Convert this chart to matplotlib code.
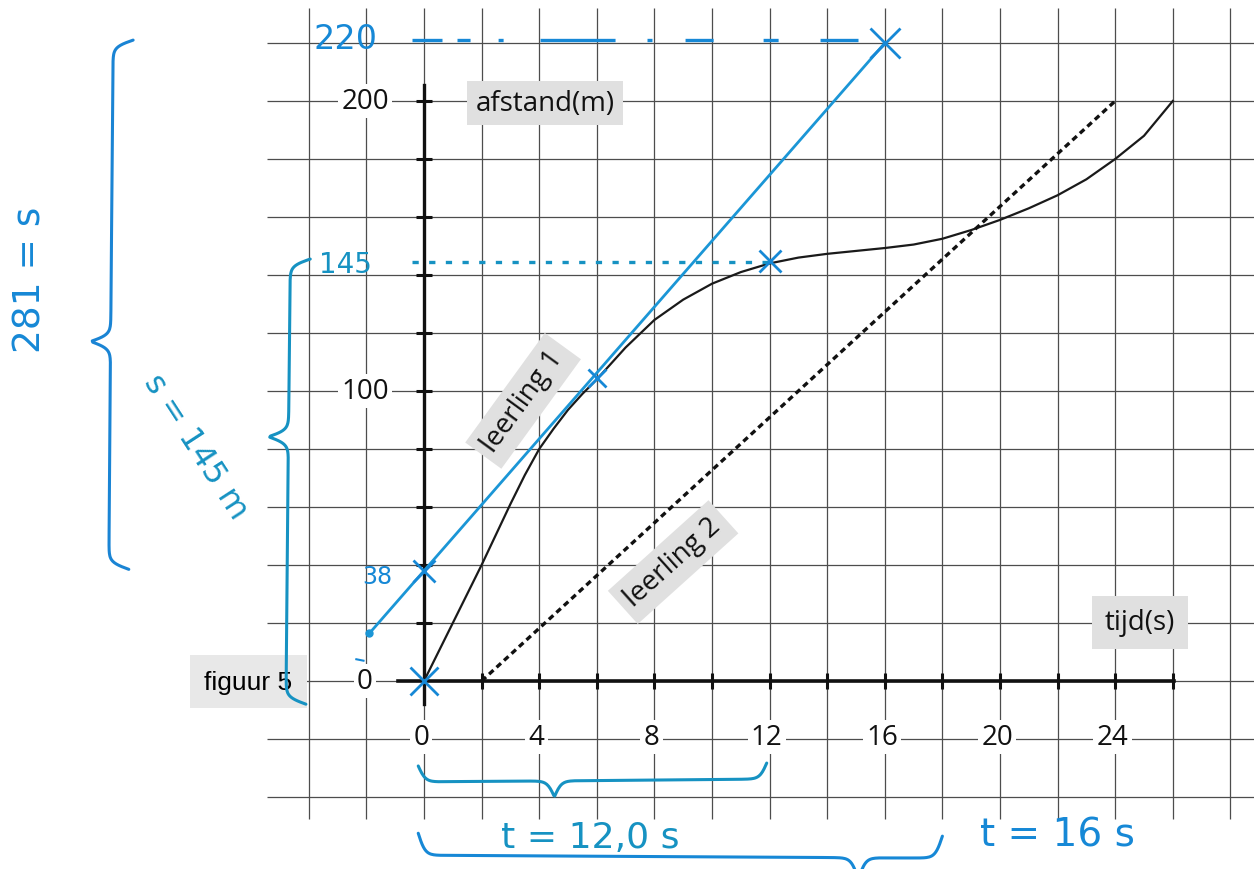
import numpy as np
import matplotlib
matplotlib.use("Agg")
import matplotlib.pyplot as plt

plt.rcParams['lines.scale_dashes'] = False

# leerling 1 (solid curve)
l1_t = [0, 1, 2, 3, 3.5, 4, 4.5, 5, 5.5, 6, 7, 8, 9, 10, 11, 12, 13, 14, 15, 16,
        17, 18, 19, 20, 21, 22, 23, 24, 25, 26]
l1_d = [0, 20, 40, 61, 71, 80, 87, 93.5, 99, 104, 115, 124.5, 131.5, 137, 141, 144,
        146, 147.3, 148.3, 149.3, 150.5, 152.5, 155.5, 159, 163, 167.5, 173, 180, 188, 200]

# leerling 2 (dashed straight line)
l2_t = [2, 24]
l2_d = [0, 200]

# blue tangent line drawn by hand
tan_t = [-1.9, 16]
tan_d = [16.4, 220]

# blue crosses
mark_t = [0, 0, 6, 12, 16]
mark_d = [0, 38, 104.5, 145, 220]
mark_sz = [20, 16, 13, 16, 22]

# helper lines at 220 and 145
help_220 = 221
help_145 = 144.5

xtick_vals = [0, 4, 8, 12, 16, 20, 24]
ytick_vals = [0, 100, 200]

# pixel scale of the sheet
PX_T = 28.8   # px per second
PX_D = 2.9    # px per metre

BLUE = '#1b96d6'
HAND = '#1688d6'
TEAL = '#1692c2'


def brace(ax, p0, p1, depth, cusp=0.5, color=HAND, lw=2.2, beta=0.28):
    # curly brace from p0 to p1 (data), cusp on the left of the direction p0->p1
    x0, y0 = p0[0] * PX_T, p0[1] * PX_D
    x1, y1 = p1[0] * PX_T, p1[1] * PX_D
    L = np.hypot(x1 - x0, y1 - y0)
    ux, uy = (x1 - x0) / L, (y1 - y0) / L
    nx, ny = -uy, ux
    s = np.linspace(0, L, 400)
    sc = cusp * L
    sig = lambda v: 1 / (1 + np.exp(-v))
    off = np.where(s <= sc,
                   sig(beta * s) + sig(beta * (s - sc)) - 0.5,
                   sig(beta * (L - s)) + sig(beta * ((L - s) - (L - sc))) - 0.5)
    px = x0 + ux * s + nx * depth * off
    py = y0 + uy * s + ny * depth * off
    ax.plot(px / PX_T, py / PX_D, color=color, lw=lw, solid_capstyle='round', zorder=6)


fig = plt.figure(figsize=(12.54, 8.70), dpi=100)
ax = fig.add_axes([0, 0, 1, 1])
ax.set_xlim(-424 / PX_T, (1254 - 424) / PX_T)
ax.set_ylim((682 - 870) / PX_D, 682 / PX_D)
ax.axis('off')

# grid paper
ax.vlines(np.arange(-4, 29, 2), -47.5, 232, color='#4d4d4d', lw=0.9, zorder=1)
ax.hlines(np.arange(-40, 221, 20), -5.45, 29, color='#4d4d4d', lw=0.9, zorder=1)

# axes with ticks
ax.plot([0, 0], [-8, 205.5], color='#111111', lw=2.4, zorder=3)
ax.plot([-0.9, 26.05], [0, 0], color='#111111', lw=2.6, zorder=3)
ax.plot(np.zeros(10), np.arange(20, 201, 20), ls='none', marker='_', ms=12, mew=2.2,
        color='#111111', zorder=3)
ax.plot(np.arange(2, 27, 2), np.zeros(13), ls='none', marker='|', ms=12, mew=2.2,
        color='#111111', zorder=3)

# tick labels
for v in ytick_vals:
    ax.text(-2.05, v, str(v), ha='center', va='center', fontsize=20, family='Open Sans',
            color='#111111', zorder=4, bbox=dict(boxstyle='square,pad=0.12', fc='white', ec='none'))
for v in xtick_vals:
    ax.text(v - 0.1, -19.3, str(v), ha='center', va='center', fontsize=20, family='Open Sans',
            color='#111111', zorder=4, bbox=dict(boxstyle='square,pad=0.12', fc='white', ec='none'))

grey = dict(boxstyle='square,pad=0.3', fc='#e0e0e0', ec='none')
ax.text(4.2, 199.3, 'afstand(m)', ha='center', va='center', fontsize=20, family='Open Sans',
        color='#111111', zorder=4, bbox=grey)
ax.text(24.86, 20.3, 'tijd(s)', ha='center', va='center', fontsize=20, family='Open Sans',
        color='#111111', zorder=4, bbox=dict(boxstyle='square,pad=0.45', fc='#e0e0e0', ec='none'))
ax.text(-6.1, -0.3, 'figuur 5', ha='center', va='center', fontsize=19, family='Liberation Sans',
        color='#000000', zorder=4, bbox=dict(boxstyle='square,pad=0.55', fc='#e8e8e8', ec='none'))
ax.text(3.44, 96.6, 'leerling 1', ha='center', va='center', rotation=54, fontsize=20,
        family='Open Sans', color='#111111', zorder=2, rotation_mode='anchor', bbox=grey)
ax.text(8.65, 41, 'leerling 2', ha='center', va='center', rotation=42, fontsize=20,
        family='Open Sans', color='#111111', zorder=2, rotation_mode='anchor', bbox=grey)

# the two graphs
ax.plot(l1_t, l1_d, color='#1a1a1a', lw=1.6, zorder=4)
ax.plot(l2_t, l2_d, color='#111111', lw=2.4, ls=(0, (4.3, 3.0)), zorder=4)

# --- blue hand work ---
ax.plot(tan_t, tan_d, color=BLUE, lw=2.0, zorder=5)
ax.plot(tan_t[0], tan_d[0], 'o', ms=5, color=BLUE, zorder=5)
for t, d, s in zip(mark_t, mark_d, mark_sz):
    ax.plot(t, d, marker='x', ms=s, mew=2.0, color=HAND, zorder=6)

dash_220 = [21.6, 10.8, 9.4, 20.2, 3.6, 26.6, 54, 23, 3.6, 23.8, 20.2, 36, 10.8, 30.2, 27.4, 30]
ax.plot([-0.42, 15.07], [help_220, help_220], color=HAND, lw=2.4, ls=(0, dash_220),
        solid_capstyle='round', zorder=5)
ax.plot([-0.42, 12], [help_145, help_145], color=TEAL, lw=2.4, ls=(0, (4.5, 7.5)), zorder=5)
ax.plot([-2.35, -2.1], [7.5, 7.0], color=HAND, lw=1.5, zorder=5)

# braces
brace(ax, (-10.25, 38.5), (-10.1, 221), 40, cusp=0.43, color='#1a84d4')
brace(ax, (-4.1, -8), (-3.95, 145.5), 40, cusp=0.6, color=TEAL)
brace(ax, (11.9, -28.3), (-0.2, -29.3), 32, cusp=0.61, color=TEAL)
brace(ax, (18.0, -53.5), (-0.2, -52.5), 44, cusp=0.16, color='#1688d6')

# handwritten numbers and results
ax.text(-2.74, 221.4, '220', ha='center', va='center', fontsize=24, color=HAND, zorder=6)
ax.text(-2.74, 143.8, '145', ha='center', va='center', fontsize=20, color=TEAL, zorder=6)
ax.text(-1.63, 36.2, '38', ha='center', va='center', fontsize=17, color=HAND, zorder=6)
ax.text(-7.95, 81, 's = 145 m', ha='center', va='center', rotation=-57, fontsize=23,
        color=TEAL, zorder=6, rotation_mode='anchor')
ax.text(-13.68, 138.6, '281 = s', ha='center', va='center', rotation=90, fontsize=27,
        color=HAND, zorder=6, rotation_mode='anchor')
ax.text(5.76, -53.8, 't = 12,0 s', ha='center', va='center', fontsize=26, color=TEAL, zorder=6)
ax.text(21.98, -52.8, 't = 16 s', ha='center', va='center', fontsize=28, color=HAND, zorder=6)

fig.savefig('out.png', dpi=100, facecolor='white')
